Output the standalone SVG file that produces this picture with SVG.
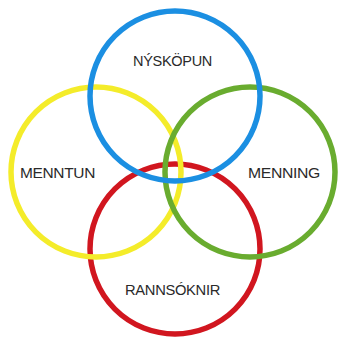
<svg xmlns="http://www.w3.org/2000/svg" width="343" height="339" viewBox="0 0 343 339">
<style>
.ring{fill:none;stroke-width:5.5}
.lbl{font-family:"Liberation Sans","DejaVu Sans",sans-serif;font-size:14px;fill:#2a2a2a;text-anchor:middle;letter-spacing:-0.3px}
</style>
<rect width="343" height="339" fill="#ffffff"/>
<g id="rannsoknir"><circle class="ring" cx="175" cy="249" r="85" stroke="#D1161F"/></g>
<g id="menntun"><circle class="ring" cx="96" cy="172" r="85" stroke="#F4EC2A"/></g>
<g id="menning"><circle class="ring" cx="250" cy="172" r="85" stroke="#69AC2F"/></g>
<g id="nyskopun"><circle class="ring" cx="175" cy="96" r="85" stroke="#1B8FE2"/></g>
<g id="labels">
<text class="lbl" x="172.5" y="66" textLength="79" lengthAdjust="spacingAndGlyphs">NÝSKÖPUN</text>
<text class="lbl" x="57.5" y="178" textLength="75" lengthAdjust="spacingAndGlyphs">MENNTUN</text>
<text class="lbl" x="284" y="178" textLength="72" lengthAdjust="spacingAndGlyphs">MENNING</text>
<text class="lbl" x="172.5" y="295" textLength="95" lengthAdjust="spacingAndGlyphs">RANNSÓKNIR</text>
</g>
<g id="connectors"></g>
</svg>
